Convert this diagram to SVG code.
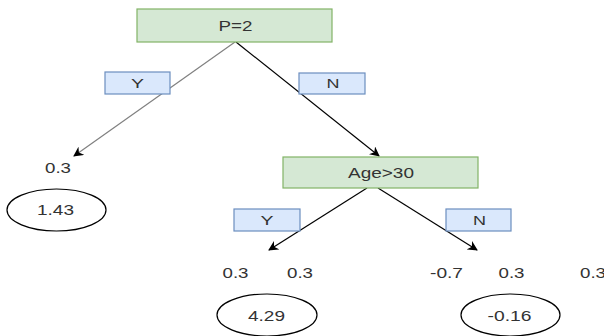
<svg xmlns="http://www.w3.org/2000/svg" width="604" height="336" viewBox="0 0 604 336">
<style>
text{font-family:"Liberation Sans",Arial,sans-serif;font-size:14px;fill:#333;text-anchor:middle}
.cond{fill:#d5e8d4;stroke:#82b366;stroke-width:1.2}
.lab{fill:#dae8fc;stroke:#6c8ebf;stroke-width:1.2}
.leaf{fill:#fff;stroke:#000;stroke-width:1.2}
.edge{fill:none;stroke:#000;stroke-width:1.2}
.small{font-size:13px}
</style>
<defs>
<marker id="arr" viewBox="0 0 10 10" refX="9" refY="5" markerWidth="10" markerHeight="10" markerUnits="userSpaceOnUse" orient="auto">
<path d="M0,0 L10,5 L0,10 L3,5 Z" fill="#000"/>
</marker>
</defs>
<rect width="604" height="336" fill="#fff"/>
<g id="connectors">
<line class="edge" x1="235" y1="42" x2="74" y2="156" style="stroke:#808080" marker-end="url(#arr)"/>
<line class="edge" x1="236" y1="42" x2="379" y2="156" marker-end="url(#arr)"/>
<line class="edge" x1="367" y1="188" x2="269" y2="250" marker-end="url(#arr)"/>
<line class="edge" x1="378" y1="188" x2="477" y2="250" marker-end="url(#arr)"/>
</g>
<g id="n-p2"><rect class="cond" x="137" y="9" width="195" height="33"/><text x="235.5" y="31" textLength="34" lengthAdjust="spacingAndGlyphs">P=2</text></g>
<g id="lab-y1"><rect class="lab" x="105" y="72" width="65" height="22"/><text class="small" x="137.5" y="88" textLength="13" lengthAdjust="spacingAndGlyphs">Y</text></g>
<g id="lab-n1"><rect class="lab" x="299" y="73" width="66" height="21"/><text class="small" x="333" y="88" textLength="13" lengthAdjust="spacingAndGlyphs">N</text></g>
<g id="n-age"><rect class="cond" x="283" y="157" width="195" height="31"/><text x="381" y="178" textLength="66" lengthAdjust="spacingAndGlyphs">Age&gt;30</text></g>
<g id="v-left"><text x="58" y="173" textLength="26" lengthAdjust="spacingAndGlyphs">0.3</text></g>
<g id="leaf-143"><ellipse class="leaf" cx="56.5" cy="210" rx="49.5" ry="21"/><text x="55.5" y="215" textLength="37" lengthAdjust="spacingAndGlyphs">1.43</text></g>
<g id="lab-y2"><rect class="lab" x="234" y="209" width="66" height="22"/><text class="small" x="267" y="225" textLength="13" lengthAdjust="spacingAndGlyphs">Y</text></g>
<g id="lab-n2"><rect class="lab" x="446" y="209" width="65" height="22"/><text class="small" x="479.5" y="225" textLength="13" lengthAdjust="spacingAndGlyphs">N</text></g>
<g id="values">
<text x="235.5" y="278" textLength="26" lengthAdjust="spacingAndGlyphs">0.3</text>
<text x="300" y="278" textLength="26" lengthAdjust="spacingAndGlyphs">0.3</text>
<text x="446.5" y="278" textLength="33" lengthAdjust="spacingAndGlyphs">-0.7</text>
<text x="511.5" y="278" textLength="26" lengthAdjust="spacingAndGlyphs">0.3</text>
<text x="593" y="278" textLength="26" lengthAdjust="spacingAndGlyphs">0.3</text>
</g>
<g id="leaf-429"><ellipse class="leaf" cx="267" cy="315" rx="50" ry="21"/><text x="266.5" y="321" textLength="37" lengthAdjust="spacingAndGlyphs">4.29</text></g>
<g id="leaf-016"><ellipse class="leaf" cx="510.5" cy="315" rx="49.5" ry="21"/><text x="509.5" y="321" textLength="44" lengthAdjust="spacingAndGlyphs">-0.16</text></g>
</svg>
